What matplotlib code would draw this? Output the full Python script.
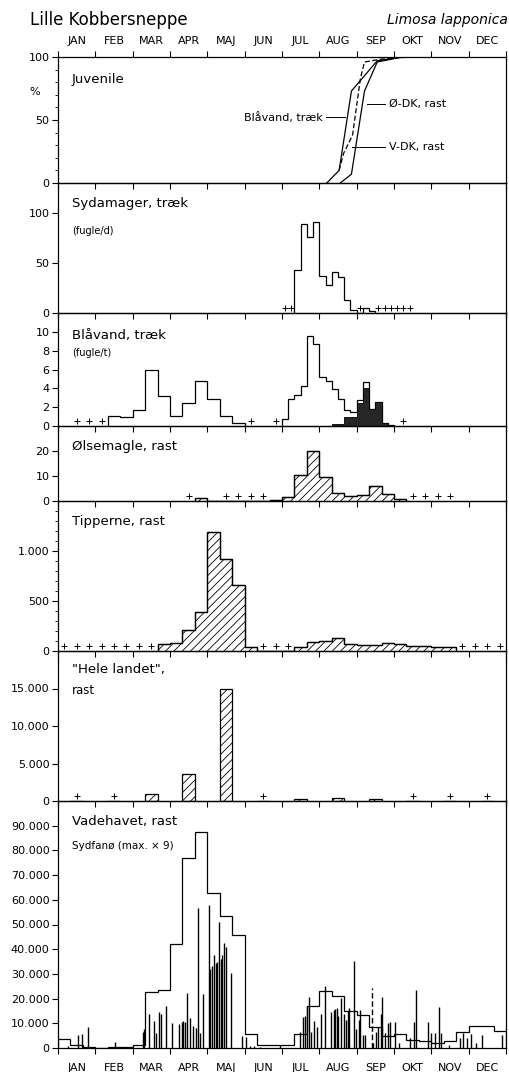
import numpy as np
import matplotlib.pyplot as plt
from matplotlib.ticker import FuncFormatter, MultipleLocator
from matplotlib.transforms import offset_copy

plt.rcParams['font.family'] = 'DejaVu Sans'
plt.rcParams['hatch.linewidth'] = 0.6

months = ["JAN", "FEB", "MAR", "APR", "MAJ", "JUN", "JUL", "AUG", "SEP", "OKT", "NOV", "DEC"]

# -------------------------
# DATA  (x in months, pentads = 6 per month, decades = 3 per month)
# -------------------------

# Juvenile share, cumulative %
juv_blaavand_x = [7.20, 7.53, 7.86, 8.12, 8.55, 9.13, 9.6, 12]
juv_blaavand_y = [0, 10, 73, 82, 97, 99.5, 100, 100]
juv_odk_x = [7.56, 7.86, 8.21, 8.55, 9.22, 12]
juv_odk_y = [0, 7, 73, 96, 100, 100]
juv_vdk_x = [7.53, 7.65, 7.89, 8.10, 8.21, 8.59, 9.13]
juv_vdk_y = [10, 23.5, 38, 83, 96, 98, 100]

# Sydamager, traek (fugle/d), pentads
syd_first = 38
syd_values = [43, 89, 76, 91, 37, 28, 41, 36, 13, 3, 0, 5, 2]
syd_plus = [36, 37, 48, 51, 52, 53, 54, 55, 56]

# Blaavand, traek (fugle/t): spring in decades, autumn in pentads
blv_spring_first = 4
blv_spring = [1.1, 0.95, 1.7, 5.9, 3.2, 1.1, 2.4, 4.8, 2.9, 1.1, 0.3]
blv_autumn_first = 36
blv_autumn = [0.75, 2.85, 3.3, 4.3, 9.6, 8.7, 5.2, 4.8, 3.95, 2.85,
              1.7, 1.45, 2.8, 4.7, 1.8, 2.5, 0.35, 0.15]
blv_juv = [0, 0, 0, 0, 0, 0, 0, 0, 0.2, 0.2,
           1.0, 1.0, 2.4, 4.0, 1.8, 2.5, 0.35, 0.15]
blv_plus_decades = [1, 2, 3, 15, 17]
blv_plus_pentads = [55]

# Oelsemagle, rast, decades
ols_first = 11
ols_values = [1.3, 0, 0, 0, 0, 0, 0.4, 1.7, 10.3, 20.2, 9.6, 3.3, 2.1, 2.4, 6.0, 3.0, 0.8]
ols_plus = [10, 13, 14, 15, 16, 28, 29, 30, 31]

# Tipperne, rast, decades
tip_first = 8
tip_values = [67, 83, 210, 393, 1187, 917, 657, 37, 0, 0, 0,
              43, 93, 103, 127, 67, 57, 60, 83, 70, 53, 53, 43, 37]
tip_plus = [0, 1, 2, 3, 4, 5, 6, 7, 16, 17, 18, 32, 33, 34, 35]

# "Hele landet", rast, monthly
land_values = [0, 0, 900, 3600, 15000, 0, 250, 450, 300, 0, 0, 0]
land_plus = [0, 1, 5, 9, 10, 11]

# Vadehavet, rast: Sydfanoe max x 9 (decades) and single counts
vad_step = [3700, 1200, 300, 0, 400, 600, 1200, 22600, 23500, 42300,
            77000, 87300, 62800, 53600, 45700, 5600, 1200, 1200, 1200, 5500,
            17200, 23100, 21000, 15000, 13400, 8600, 4700, 5600, 3300, 3000,
            2000, 3000, 6400, 8900, 9100, 7000]
vad_count_x = [0.27, 0.53, 0.65, 0.81, 1.54,
               2.28, 2.31, 2.43, 2.57, 2.63, 2.70, 2.77, 2.90,
               3.06, 3.24, 3.32, 3.36, 3.40, 3.46, 3.53, 3.62, 3.69, 3.74, 3.81, 3.88,
               4.04, 4.08, 4.12, 4.17, 4.23, 4.26, 4.32, 4.37, 4.40, 4.45, 4.51, 4.64, 4.93, 5.03,
               5.15, 5.25, 5.40, 5.95,
               6.47, 6.56, 6.61, 6.67, 6.73, 6.78, 6.87, 6.93, 7.05, 7.14,
               7.30, 7.39, 7.43, 7.47, 7.51, 7.59, 7.65, 7.71, 7.76, 7.80, 7.92, 7.98,
               8.05, 8.09, 8.16, 8.22, 8.44, 8.51, 8.57, 8.64, 8.68, 8.77, 8.84, 8.90,
               9.04, 9.13, 9.44, 9.53, 9.59, 9.91,
               10.0, 10.1, 10.2, 10.27, 10.47, 10.76, 10.85, 10.95,
               11.06, 11.19, 11.37, 11.9]
vad_count_y = [800, 5300, 5700, 8600, 2600,
               6600, 7500, 13800, 11000, 6200, 14500, 13600, 17000,
               10300, 9600, 10400, 11000, 10700, 22200, 12300, 8900, 8000, 56500, 6000, 21900,
               58000, 32000, 33000, 37700, 34300, 35000, 51200, 36000, 37500, 42400, 41000, 30500, 5000, 4300,
               1000, 800, 600, 1200,
               6300, 12700, 13100, 17200, 20800, 6600, 10900, 8600, 13600, 24900,
               14500, 15400, 15800, 16100, 13000, 20100, 13600, 11400, 15000, 16100, 35300, 7800,
               11400, 15400, 5300, 5300, 1900, 6600, 8600, 13600, 20800, 6000, 10000, 10700,
               10700, 1900, 4200, 10700, 23500, 10700,
               6000, 6000, 16800, 6000, 1200, 3900, 6000, 3900,
               5500, 1900, 5300, 5300]
vad_dashed_x = [8.40]
vad_dashed_y = [24200]

# -------------------------
# FIGURE / AXES
# -------------------------
W, H = 510, 1072
fig = plt.figure(figsize=(W / 100, H / 100), dpi=100)
bounds = [57, 183, 313, 426, 501, 651, 801, 1048]
left_px, right_px = 58, 506

dotted = FuncFormatter(lambda v, p: f"{v:,.0f}".replace(",", "."))

axes = []
for i in range(7):
    top, bot = bounds[i], bounds[i + 1]
    ax = fig.add_axes([left_px / W, 1 - bot / H, (right_px - left_px) / W, (bot - top) / H])
    ax.patch.set_visible(False)
    ax.set_xlim(0, 12)
    ax.set_xticks(range(13))
    ax.set_xticks(np.arange(12) + 0.5, minor=True)
    ax.tick_params(axis='x', which='major', direction='out', length=4, width=0.8,
                   labelbottom=False)
    ax.tick_params(axis='x', which='minor', length=0, labelbottom=False)
    ax.tick_params(axis='y', which='both', direction='out', labelsize=8, pad=2)
    ax.tick_params(axis='y', which='major', length=4, width=0.8)
    ax.tick_params(axis='y', which='minor', length=2.5, width=0.6)
    for s in ax.spines.values():
        s.set_linewidth(0.9)
    axes.append(ax)

ax_juv, ax_syd, ax_blv, ax_ols, ax_tip, ax_land, ax_vad = axes


def plus(ax, x):
    tr = offset_copy(ax.transData, fig=fig, y=5, units='dots')
    ax.plot(x, np.zeros(len(x)), '+', color='k', ms=4, mew=0.7, transform=tr,
            clip_on=False, zorder=5)


def label(y_px, text, size=9.5, x_px=72):
    fig.text(x_px / W, 1 - y_px / H, text, fontsize=size, va='center', ha='left')


# top month labels and ticks
ax_juv.tick_params(axis='x', which='major', top=True)
ax_juv.set_xticklabels(months, minor=True)
ax_juv.tick_params(axis='x', which='minor', labeltop=True, labelbottom=False,
                   labelsize=8, pad=8)

# Juvenile
ax_juv.plot(juv_blaavand_x, juv_blaavand_y, color='k', lw=0.9)
ax_juv.plot(juv_odk_x, juv_odk_y, color='k', lw=0.9)
ax_juv.plot(juv_vdk_x, juv_vdk_y, color='k', lw=0.9, ls=(0, (4, 2)))
ax_juv.set_ylim(0, 100)
ax_juv.set_yticks([0, 50, 100])
ax_juv.yaxis.set_minor_locator(MultipleLocator(10))
ax_juv.plot([7.17, 7.70], [52, 52], color='k', lw=0.7)
ax_juv.text(7.08, 52, "Blåvand, træk", fontsize=8, va='center', ha='right')
ax_juv.plot([8.28, 8.77], [63, 63], color='k', lw=0.7)
ax_juv.text(8.86, 63, "Ø-DK, rast", fontsize=8, va='center', ha='left')
ax_juv.plot([7.87, 8.77], [28.6, 28.6], color='k', lw=0.7)
ax_juv.text(8.86, 28.6, "V-DK, rast", fontsize=8, va='center', ha='left')
label(80, "Juvenile")
fig.text(35 / W, 1 - 92 / H, "%", fontsize=8, ha='center', va='center')

# Sydamager
edges = (syd_first + np.arange(len(syd_values) + 1)) / 6
ax_syd.stairs(syd_values, edges, color='k', lw=0.9)
plus(ax_syd, (np.array(syd_plus) + 0.5) / 6)
ax_syd.set_ylim(0, 130)
ax_syd.set_yticks([0, 50, 100])
label(204, "Sydamager, træk")
label(231, "(fugle/d)", size=7)

# Blaavand
edges = (blv_spring_first + np.arange(len(blv_spring) + 1)) / 3
ax_blv.stairs(blv_spring, edges, color='k', lw=0.9)
edges = (blv_autumn_first + np.arange(len(blv_autumn) + 1)) / 6
ax_blv.stairs(blv_autumn, edges, color='k', lw=0.9)
ax_blv.stairs(blv_juv, edges, fill=True, facecolor='0.15', edgecolor='k', lw=0.6)
plus(ax_blv, (np.array(blv_plus_decades) + 0.5) / 3)
plus(ax_blv, (np.array(blv_plus_pentads) + 0.5) / 6)
ax_blv.set_ylim(0, 12)
ax_blv.set_yticks(range(0, 11, 2))
label(335, "Blåvand, træk")
label(353, "(fugle/t)", size=7)

# Oelsemagle
edges = (ols_first + np.arange(len(ols_values) + 1)) / 3
ax_ols.stairs(ols_values, edges, fill=True, facecolor='white', edgecolor='k',
              hatch='////', lw=0.9)
ax_ols.stairs(ols_values, edges, color='k', lw=0.9)
plus(ax_ols, (np.array(ols_plus) + 0.5) / 3)
ax_ols.set_ylim(0, 30)
ax_ols.set_yticks([0, 10, 20])
label(446, "Ølsemagle, rast")

# Tipperne
edges = (tip_first + np.arange(len(tip_values) + 1)) / 3
ax_tip.stairs(tip_values, edges, fill=True, facecolor='white', edgecolor='k',
              hatch='////', lw=0.9)
ax_tip.stairs(tip_values, edges, color='k', lw=0.9)
plus(ax_tip, (np.array(tip_plus) + 0.5) / 3)
ax_tip.set_ylim(0, 1500)
ax_tip.set_yticks([0, 500, 1000])
ax_tip.yaxis.set_minor_locator(MultipleLocator(100))
ax_tip.yaxis.set_major_formatter(dotted)
label(522, "Tipperne, rast")

# Hele landet
ax_land.bar(np.arange(12) + 0.5, land_values, width=1 / 3, facecolor='white',
            edgecolor='k', hatch='////', lw=0.9)
plus(ax_land, np.array(land_plus) + 0.5)
ax_land.set_ylim(0, 20000)
ax_land.set_yticks([0, 5000, 10000, 15000])
ax_land.yaxis.set_major_formatter(dotted)
label(670, "\"Hele landet\",")
label(690, "rast", size=8.5)

# Vadehavet
edges = np.arange(len(vad_step) + 1) / 3
ax_vad.stairs(vad_step, edges, color='k', lw=0.9)
ax_vad.vlines(vad_count_x, 0, vad_count_y, color='k', lw=1.0)
ax_vad.vlines(vad_dashed_x, 0, vad_dashed_y, color='k', lw=1.0, linestyles=(0, (4, 2)))
ax_vad.set_ylim(0, 100000)
ax_vad.set_yticks(range(0, 90001, 10000))
ax_vad.yaxis.set_major_formatter(dotted)
ax_vad.set_xticklabels(months, minor=True)
ax_vad.tick_params(axis='x', which='minor', labelbottom=True, labelsize=8, pad=11)
label(822, "Vadehavet, rast")
label(846, "Sydfanø (max. × 9)", size=7.5)

# titles
fig.text(30 / W, 1 - 20 / H, "Lille Kobbersneppe", fontsize=12, va='center', ha='left')
fig.text(508 / W, 1 - 20 / H, "Limosa lapponica", fontsize=10, style='italic',
         va='center', ha='right')

fig.savefig("out.png", dpi=100)
